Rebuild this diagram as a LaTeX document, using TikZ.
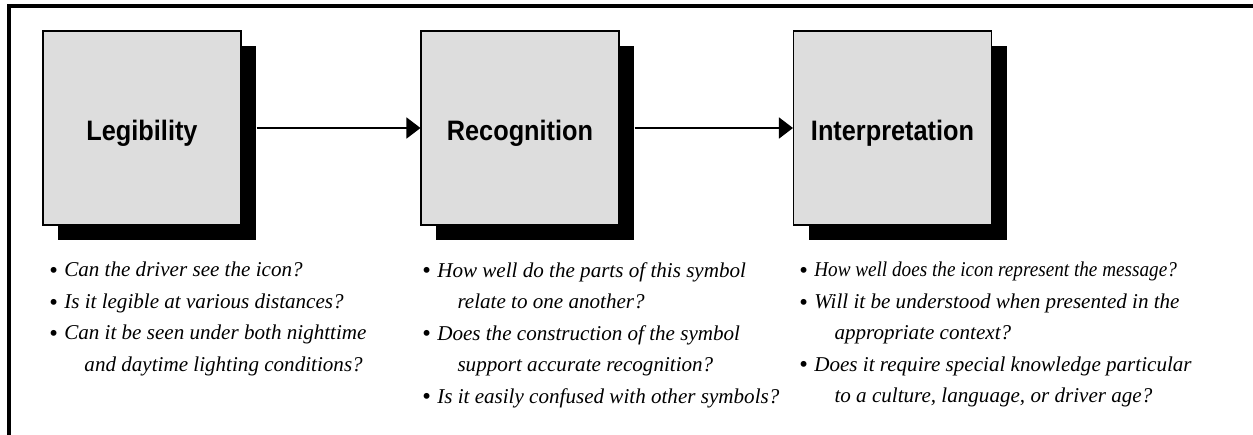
\documentclass[tikz,border=0pt]{standalone}
\usepackage{fontspec}
\setmainfont{Liberation Serif}
\newfontfamily\headfont[FakeStretch=0.9]{Liberation Sans}
\usepackage{tikz}
\usetikzlibrary{shadows}
\usetikzlibrary{arrows.meta}
\usetikzlibrary{calc,positioning}

\definecolor{boxgray}{RGB}{221,221,221}

\newcommand{\qfirst}[1]{\raisebox{-0.9pt}{\fontsize{14}{14}\selectfont\textbullet}\hspace{3.6pt}\textit{#1}}
\newcommand{\qmore}[1]{\hspace{20pt}\textit{#1}}

\tikzset{
    stage/.style={draw=black, line width=0.6pt, fill=boxgray,
        minimum width=3.96cm, minimum height=3.88cm, inner sep=0pt,
        font=\headfont\bfseries\fontsize{16}{19}\selectfont,
        text height=14pt, text depth=0pt,
        drop shadow={shadow xshift=0.3cm, shadow yshift=-0.3cm, opacity=1, fill=black}},
    questions/.style={anchor=north west, align=left, inner sep=0pt,
        font=\fontsize{12}{17.9}\selectfont}
}

\begin{document}
\begin{tikzpicture}[>=Stealth]

    \useasboundingbox (0,0) rectangle (25.06,-8.68);

    % frame
    \draw[line width=0.08cm] (0.176,-9) -- (0.176,-0.11) -- (25.5,-0.11);

    \node[stage] (A) at (2.84,-2.56) {Legibility};
    \node[stage] (B) at (10.4,-2.56) {Recognition};
    \node[stage] (C) at (17.85,-2.56) {Interpretation};

    \draw[-{Triangle[length=0.28cm, width=0.42cm]}, line width=0.03cm] ([xshift=0.3cm]A.east) -- (B.west);
    \draw[-{Triangle[length=0.28cm, width=0.42cm]}, line width=0.03cm] ([xshift=0.3cm]B.east) -- (C.west);

    \node[questions] (qA) at (0.98,-5.24) {%
        \qfirst{Can the driver see the icon?}\\
        \qfirst{Is it legible at various distances?}\\
        \qfirst{Can it be seen under both nighttime}\\
        \qmore{and daytime lighting conditions?}};
    \node[questions] (qB) at (8.44,-5.24) {%
        \qfirst{How well do the parts of this symbol}\\
        \qmore{relate to one another?}\\
        \qfirst{Does the construction of the symbol}\\
        \qmore{support accurate recognition?}\\
        \qfirst{Is it easily confused with other symbols?}};
    \node[questions] (qC) at (15.98,-5.24) {%
        \qfirst{\scalebox{0.91}[1]{How well does the icon represent the message?}}\\
        \qfirst{Will it be understood when presented in the}\\
        \qmore{appropriate context?}\\
        \qfirst{Does it require special knowledge particular}\\
        \qmore{to a culture, language, or driver age?}};

\end{tikzpicture}
\end{document}
